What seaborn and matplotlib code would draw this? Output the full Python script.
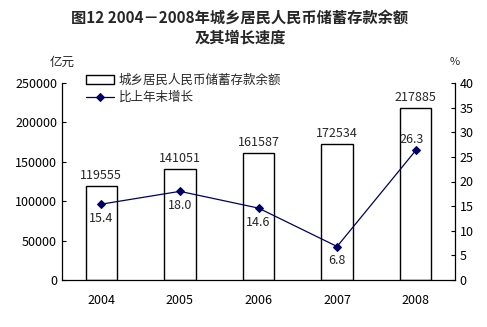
import matplotlib
matplotlib.use("Agg")
import matplotlib.pyplot as plt
import seaborn as sns
import pandas as pd

years = ["2004", "2005", "2006", "2007", "2008"]
deposits = [119555, 141051, 161587, 172534, 217885]
growth = [15.4, 18.0, 14.6, 6.8, 26.3]
growth_labels = ["15.4", "18.0", "14.6", "6.8", "26.3"]

sns.set_theme(style="white")
plt.rcParams['font.family'] = ['Noto Sans CJK SC', 'DejaVu Sans']

df = pd.DataFrame({"year": years, "deposits": deposits, "growth": growth})

fig = plt.figure(figsize=(4.87, 3.27), dpi=100)
ax = fig.add_axes([62/487, 1-280/327, 393/487, 197/327])

sns.barplot(data=df, x="year", y="deposits", ax=ax, color="white",
            edgecolor="black", linewidth=1.0, width=0.4, saturation=1,
            label="城乡居民人民币储蓄存款余额")
ax.set_ylim(0, 250000)
ax.set_yticks(range(0, 250001, 50000))
ax.set_xlim(-0.5, 4.5)
ax.set_xlabel("")
ax.set_ylabel("")
for i, v in enumerate(deposits):
    ax.text(i, v + 5000, str(v), ha="center", va="bottom", fontsize=9)

ax2 = ax.twinx()
sns.lineplot(x=list(range(5)), y=growth, ax=ax2, color="#000066", marker="D",
             markersize=4.5, linewidth=0.9, markeredgecolor="#000066",
             label="比上年末增长")
ax2.set_ylim(0, 40)
ax2.set_yticks(range(0, 41, 5))
for i, v in enumerate(growth):
    if i == len(growth) - 1:
        ax2.text(i - 0.05, v + 1.0, growth_labels[i], ha="center", va="bottom", fontsize=9)
    else:
        ax2.text(i, v - 1.6, growth_labels[i], ha="center", va="top", fontsize=9)

for a in (ax, ax2):
    for s in a.spines.values():
        s.set_visible(False)
    a.tick_params(labelsize=9, colors="black", length=3, width=0.8, direction="in")

ax.spines["left"].set_visible(True)
ax.spines["bottom"].set_visible(True)
ax2.spines["right"].set_visible(True)
for a, side in ((ax, "left"), (ax, "bottom"), (ax2, "right")):
    a.spines[side].set_color("black")
    a.spines[side].set_linewidth(0.9)

ax.tick_params(axis="x", length=0, pad=10)
ax.set_xticks([0.5, 1.5, 2.5, 3.5], minor=True)
ax.tick_params(axis="x", which="minor", length=4, direction="in", width=0.8)
ax.tick_params(axis="y", left=True, direction="in")
ax2.tick_params(axis="y", right=True, direction="in")

h1, l1 = ax.get_legend_handles_labels()
h2, l2 = ax2.get_legend_handles_labels()
if ax2.get_legend():
    ax2.get_legend().remove()
if ax.get_legend():
    ax.get_legend().remove()
ax.legend(h1 + h2, l1 + l2, loc="upper left", bbox_to_anchor=(0.055, 1.06),
          frameon=False, fontsize=9, handlelength=2.2, handletextpad=0.4,
          labelspacing=0.35, borderpad=0.2, borderaxespad=0)

fig.text(240/487, 1-18/327, "图12 2004－2008年城乡居民人民币储蓄存款余额",
         ha="center", va="center", fontsize=11, fontweight="bold")
fig.text(240/487, 1-38/327, "及其增长速度", ha="center", va="center",
         fontsize=11, fontweight="bold")
fig.text(50/487, 1-62/327, "亿元", ha="left", va="center", fontsize=9)
fig.text(455/487, 1-62/327, "%", ha="center", va="center", fontsize=8)

fig.savefig("out.png", dpi=100, facecolor="white")
